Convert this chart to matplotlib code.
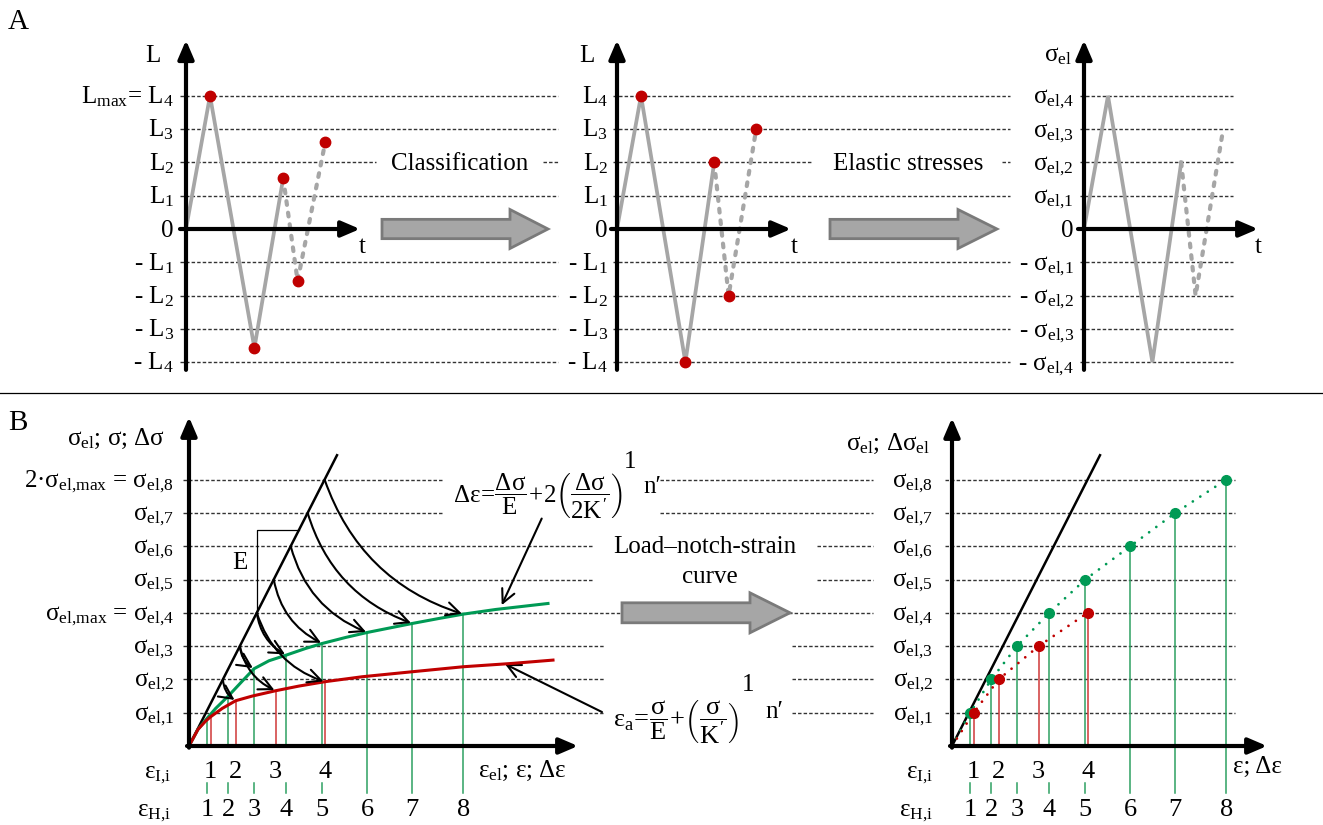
import matplotlib
matplotlib.use("Agg")
import matplotlib.pyplot as plt
from matplotlib.patches import Polygon
from matplotlib.lines import Line2D

plt.rcParams["font.family"] = ["Liberation Serif", "DejaVu Serif"]
plt.rcParams["mathtext.fontset"] = "custom"
plt.rcParams["mathtext.rm"] = "Liberation Serif"
plt.rcParams["mathtext.it"] = "Liberation Serif"
plt.rcParams["mathtext.bf"] = "Liberation Serif:bold"

W, H = 1323, 825
LEV = 33.3        # px per class level
FS = 18
RED = "#c00000"
GREEN = "#009a55"
GRAY = "#a6a6a6"
GUIDE = dict(color="#333333", lw=1.0, ls=(0, (2.5, 1.5)), zorder=1)

# ---------- panel A data (time steps, class levels)
t_path = [0, 1.0, 2.85, 4.05, 4.65, 5.8]
load_signal = [0, 4, -3.57, 1.53, -1.56, 2.6]
load_classes = [0, 4, -4, 2, -2, 3]
sigma_el = [0, 4, -4, 2, -2, 3]
levels_a = [4, 3, 2, 1, 0, -1, -2, -3, -4]

labels_L1 = ["L$_{\\mathrm{max}}$= L$_4$", "L$_3$", "L$_2$", "L$_1$", "0",
             "- L$_1$", "- L$_2$", "- L$_3$", "- L$_4$"]
labels_L2 = ["L$_4$", "L$_3$", "L$_2$", "L$_1$", "0",
             "- L$_1$", "- L$_2$", "- L$_3$", "- L$_4$"]
labels_S = ["σ$_{\\mathrm{el{,}4}}$", "σ$_{\\mathrm{el{,}3}}$", "σ$_{\\mathrm{el{,}2}}$",
            "σ$_{\\mathrm{el{,}1}}$", "0", "- σ$_{\\mathrm{el{,}1}}$", "- σ$_{\\mathrm{el{,}2}}$",
            "- σ$_{\\mathrm{el{,}3}}$", "- σ$_{\\mathrm{el{,}4}}$"]

# ---------- panel B data (strain units, stress levels)
E_slope = 0.59
elastic_end = 14.8
levels_b = [1, 2, 3, 4, 5, 6, 7, 8]
eps_H = [1.83, 3.93, 6.5, 9.73, 13.33, 17.83, 22.33, 27.43]
eps_I = [2.17, 4.67, 8.67, 13.57]
dsig_H = [0.84, 1.50, 2.32, 2.73, 3.08, 3.41, 3.68, 3.96]
sig_I = [0.88, 1.36, 1.66, 1.93]
green_eps = [0, 0.9, 1.83, 2.67, 3.93, 5.33, 6.5, 8.0, 9.73, 11.67, 13.33,
             15.67, 17.83, 20.33, 22.33, 25.0, 27.43, 30.67, 35.9]
green_sig = [0, 0.5, 0.84, 1.13, 1.50, 1.95, 2.32, 2.56, 2.73, 2.93, 3.08,
             3.26, 3.41, 3.56, 3.68, 3.83, 3.96, 4.10, 4.28]
red_eps = [0, 0.9, 1.67, 2.17, 3.33, 4.67, 6.33, 8.67, 11.0, 13.57, 17.33,
           22.33, 27.43, 32.33, 36.4]
red_sig = [0, 0.5, 0.75, 0.88, 1.13, 1.36, 1.50, 1.66, 1.80, 1.93, 2.08,
           2.23, 2.38, 2.48, 2.58]
arrows_to_H = [3, 4, 5, 6, 7, 8]
arrows_to_I = [2, 3, 4]
labels_B1 = ["σ$_{\\mathrm{el{,}1}}$", "σ$_{\\mathrm{el{,}2}}$", "σ$_{\\mathrm{el{,}3}}$",
             "σ$_{\\mathrm{el{,}max}}$ = σ$_{\\mathrm{el{,}4}}$", "σ$_{\\mathrm{el{,}5}}$",
             "σ$_{\\mathrm{el{,}6}}$", "σ$_{\\mathrm{el{,}7}}$",
             "2·σ$_{\\mathrm{el{,}max}}$ = σ$_{\\mathrm{el{,}8}}$"]
labels_B2 = ["σ$_{\\mathrm{el{,}%d}}$" % k for k in levels_b]

fig = plt.figure(figsize=(W / 100, H / 100), dpi=100)


def full_axes(ox, oy, sx):
    ax = fig.add_axes([0, 0, 1, 1])
    ax.set_xlim(-ox / sx, (W - ox) / sx)
    ax.set_ylim((oy - H) / LEV, oy / LEV)
    ax.axis("off")
    ax.patch.set_visible(False)
    return ax


def axis_arrow(ax, p0, p1):
    ax.annotate("", xy=p1, xytext=p0, zorder=6,
                arrowprops=dict(arrowstyle="-|>,head_length=0.7,head_width=0.3",
                                lw=3, color="k", shrinkA=0, shrinkB=0,
                                mutation_scale=16))


def block_arrow(ax, x0, xh, x1, yc, hb, hh):
    verts = [(x0, yc - hb), (xh, yc - hb), (xh, yc - hh), (x1, yc),
             (xh, yc + hh), (xh, yc + hb), (x0, yc + hb)]
    ax.add_patch(Polygon(verts, closed=True, fc="#a6a6a6", ec="#7a7a7a",
                         lw=2, zorder=5))


# ================= row A (x in px, y in levels)
row_a = full_axes(0, 229, 1)
seg_default = [(180, 558), (613, 1010), (1080, 1233)]
seg_gap = {2: [(180, 376), (543, 558), (613, 812), (1002, 1010), (1080, 1233)]}
for lv in levels_a:
    if lv == 0:
        continue
    for a, b in seg_gap.get(lv, seg_default):
        row_a.plot([a, b], [lv, lv], **GUIDE)
block_arrow(row_a, 382, 510, 548, 0, 0.29, 0.585)
block_arrow(row_a, 830, 958, 997, 0, 0.29, 0.585)
row_a.text(460, 1.77, "Classification", ha="center", va="baseline", fontsize=FS)
row_a.text(908, 1.77, "Elastic stresses", ha="center", va="baseline", fontsize=FS)

panels_a = [
    (186, load_signal, True, labels_L1, -0.5, "L", -1.375, 7.33),
    (617, load_classes, True, labels_L2, -0.375, "L", -1.25, 7.38),
    (1084, sigma_el, False, labels_S, -0.42, "σ$_{\\mathrm{el}}$", -1.08, 7.25),
]
for ox, vals, dots, labs, lx, ylab, ylx, tx in panels_a:
    ax = full_axes(ox, 229, 24)
    ax.plot(t_path[:4], vals[:4], color=GRAY, lw=2.7, zorder=3,
            solid_joinstyle="miter")
    ax.plot(t_path[3:], vals[3:], color=GRAY, lw=3.0, ls=(0, (0.9, 1.9)),
            dash_capstyle="round", zorder=3)
    if dots:
        ax.plot(t_path[1:], vals[1:], "o", color=RED, ms=7.5, zorder=5)
    axis_arrow(ax, (0, -4.23), (0, 5.67))
    axis_arrow(ax, (-0.25, 0), (7.25, 0))
    for lv, s in zip(levels_a, labs):
        ax.text(lx, lv - 0.23, s, ha="right", va="baseline", fontsize=FS)
    ax.text(ylx, 5.02, ylab, ha="center", va="baseline", fontsize=FS)
    ax.text(tx, -0.72, "t", ha="center", va="baseline", fontsize=FS)

# ================= row B (x in px, y in levels)
row_b = full_axes(0, 746, 1)
seg_b = {
    8: [(183, 442), (660, 873), (945, 1235)],
    7: [(183, 442), (660, 873), (945, 1235)],
    6: [(183, 593), (817, 873), (945, 1235)],
    5: [(183, 593), (817, 873), (945, 1235)],
    4: [(183, 873), (945, 1235)],
    3: [(183, 605), (792, 873), (945, 1235)],
    2: [(183, 605), (792, 873), (945, 1235)],
    1: [(183, 603), (792, 873), (945, 1235)],
}
for lv in levels_b:
    for a, b in seg_b[lv]:
        row_b.plot([a, b], [lv, lv], **GUIDE)
block_arrow(row_b, 622, 750, 790, 4.0, 0.3, 0.6)
row_b.text(705, 5.8, "Load–notch-strain", ha="center", va="baseline", fontsize=FS)
row_b.text(710, 4.9, "curve", ha="center", va="baseline", fontsize=FS)

row_b.text(453, 7.5,
           r"$\Delta\varepsilon\!=\!\dfrac{\Delta\sigma}{E}\!+\!2\left(\dfrac{\Delta\sigma}{2K'}\right)$",
           ha="left", va="center", fontsize=18)
row_b.text(630, 8.52, "1", ha="center", va="center", fontsize=FS)
row_b.text(652, 7.78, "n′", ha="center", va="center", fontsize=FS)
row_b.text(613, 0.75,
           r"$\varepsilon_{a}\!=\!\dfrac{\sigma}{E}\!+\!\left(\dfrac{\sigma}{K'}\right)$",
           ha="left", va="center", fontsize=19)
row_b.text(748, 1.83, "1", ha="center", va="center", fontsize=FS)
row_b.text(774, 1.02, "n′", ha="center", va="center", fontsize=FS)
ptr = dict(arrowstyle="->,head_length=0.6,head_width=0.3", lw=1.5, color="k",
           shrinkA=0, shrinkB=0, mutation_scale=16)
row_b.annotate("", xy=(501.7, 4.23), xytext=(541.7, 6.83), arrowprops=ptr)
row_b.annotate("", xy=(505, 2.46), xytext=(602, 1.02), arrowprops=ptr)

# ---- B1
b1 = full_axes(189, 746, 10)
b1.plot([0, elastic_end], [0, elastic_end * E_slope], color="k", lw=1.8, zorder=4)
b1.plot(green_eps, green_sig, color=GREEN, lw=2.2, zorder=4)
b1.plot(red_eps, red_sig, color=RED, lw=2.2, zorder=4)
for i, (e, s) in enumerate(zip(eps_H, dsig_H)):
    if i < 5:
        b1.plot([e, e], [0, s], color="#2ea062", lw=1.1, zorder=3)
        b1.plot([e, e], [-1.11, -1.41], color="#2ea062", lw=1.1, zorder=3)
    else:
        b1.plot([e, e], [-1.41, s], color="#2ea062", lw=1.1, zorder=3)
for e, s in zip(eps_I, sig_I):
    b1.plot([e, e], [0, s], color="#d03838", lw=1.1, zorder=3)
arc = dict(arrowstyle="->,head_length=0.6,head_width=0.3", lw=1.5, color="k",
           shrinkA=0, shrinkB=1, connectionstyle="arc3,rad=0.25", mutation_scale=16)
for k in arrows_to_H:
    b1.annotate("", xy=(eps_H[k - 1], dsig_H[k - 1]), xytext=(k / E_slope, k),
                arrowprops=arc, zorder=5)
for k in arrows_to_I:
    b1.annotate("", xy=(eps_I[k - 1], sig_I[k - 1]), xytext=(k / E_slope, k),
                arrowprops=arc, zorder=5)
# slope triangle E
b1.plot([4 / E_slope, 4 / E_slope, 6.5 / E_slope],
        [3.95, 6.5, 6.5], color="k", lw=0.9, zorder=3)
b1.text(5.1, 5.5, "E", ha="center", va="center", fontsize=FS)
axis_arrow(b1, (0, -0.05), (0, 9.88))
axis_arrow(b1, (-0.2, 0), (38.9, 0))
for lv, s in zip(levels_b, labels_B1):
    b1.text(-1.5, lv - 0.21, s, ha="right", va="baseline", fontsize=FS)
b1.text(-2.4, 9.04, "σ$_{\\mathrm{el}}$; σ; Δσ", ha="right", va="baseline", fontsize=FS)
b1.text(33.3, -0.93, "ε$_{\\mathrm{el}}$; ε; Δε", ha="center", va="baseline", fontsize=FS)
b1.text(-1.8, -0.96, "ε$_{\\mathrm{I{,}i}}$", ha="right", va="baseline", fontsize=FS)
b1.text(-1.8, -2.1, "ε$_{\\mathrm{H{,}i}}$", ha="right", va="baseline", fontsize=FS)
for i, e in enumerate(eps_I):
    b1.text(e, -0.96, str(i + 1), ha="center", va="baseline", fontsize=FS + 1)
for i, e in enumerate(eps_H):
    b1.text(e, -2.1, str(i + 1), ha="center", va="baseline", fontsize=FS + 1)

# ---- B2
b2 = full_axes(952, 746, 10)
b2.plot([0, elastic_end], [0, elastic_end * E_slope], color="k", lw=1.8, zorder=4)
b2.plot([0] + eps_H, [0] + levels_b, color=GREEN, lw=2.0, ls=(0, (0.01, 3.2)),
        dash_capstyle="round", zorder=4)
b2.plot([0] + eps_I, [0] + levels_b[:4], color=RED, lw=2.0, ls=(0, (0.01, 3.2)),
        dash_capstyle="round", zorder=4)
for i, (e, s) in enumerate(zip(eps_H, levels_b)):
    if i < 5:
        b2.plot([e, e], [0, s], color="#2ea062", lw=1.1, zorder=3)
        b2.plot([e, e], [-1.11, -1.41], color="#2ea062", lw=1.1, zorder=3)
    else:
        b2.plot([e, e], [-1.41, s], color="#2ea062", lw=1.1, zorder=3)
for e, s in zip(eps_I, levels_b[:4]):
    b2.plot([e, e], [0, s], color="#d03838", lw=1.1, zorder=3)
b2.plot(eps_H, levels_b, "o", color=GREEN, ms=7, zorder=5)
b2.plot(eps_I, levels_b[:4], "o", color=RED, ms=7, zorder=5)
axis_arrow(b2, (0, -0.05), (0, 9.85))
axis_arrow(b2, (-0.2, 0), (31.5, 0))
for lv, s in zip(levels_b, labels_B2):
    b2.text(-1.9, lv - 0.21, s, ha="right", va="baseline", fontsize=FS)
b2.text(-2.2, 8.89, "σ$_{\\mathrm{el}}$; Δσ$_{\\mathrm{el}}$", ha="right", va="baseline", fontsize=FS)
b2.text(30.5, -0.81, "ε; Δε", ha="center", va="baseline", fontsize=FS)
b2.text(-1.9, -0.96, "ε$_{\\mathrm{I{,}i}}$", ha="right", va="baseline", fontsize=FS)
b2.text(-1.9, -2.1, "ε$_{\\mathrm{H{,}i}}$", ha="right", va="baseline", fontsize=FS)
for i, e in enumerate(eps_I):
    b2.text(e, -0.96, str(i + 1), ha="center", va="baseline", fontsize=FS + 1)
for i, e in enumerate(eps_H):
    b2.text(e, -2.1, str(i + 1), ha="center", va="baseline", fontsize=FS + 1)

# ---- panel letters and separator
fig.text(18 / W, 1 - 22 / H, "A", ha="center", va="center", fontsize=21)
fig.text(18 / W, 1 - 423 / H, "B", ha="center", va="center", fontsize=21)
fig.add_artist(Line2D([0, 1], [1 - 393 / H] * 2, color="k", lw=0.9))

fig.savefig("out.png", dpi=100)
